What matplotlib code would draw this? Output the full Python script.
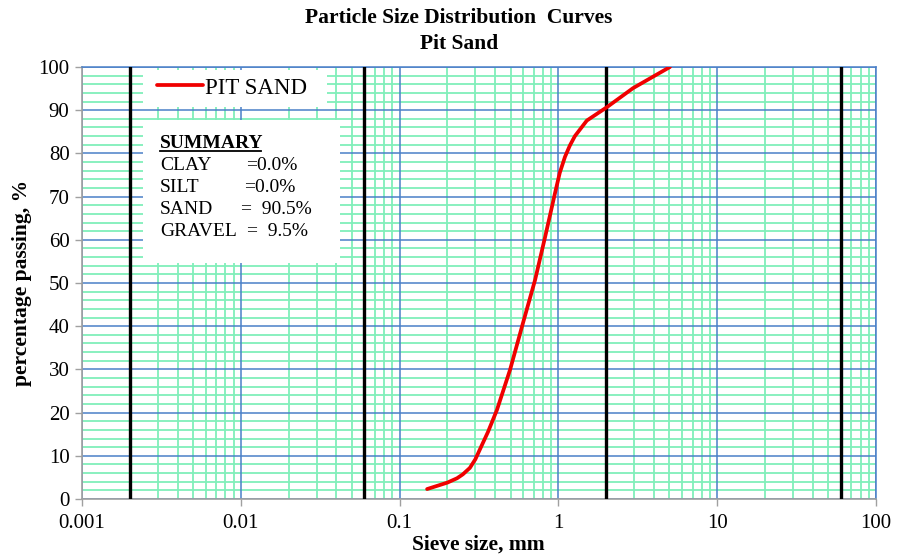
import numpy as np
import matplotlib
matplotlib.use("Agg")
import matplotlib.pyplot as plt
from matplotlib.patches import Rectangle

# ---- data ----
sieve_mm = [0.149, 0.20, 0.23, 0.25, 0.277, 0.30, 0.33, 0.36, 0.41, 0.496, 0.598, 0.713,
            0.824, 0.952, 1.02, 1.10, 1.18, 1.27, 1.51, 2.02, 2.95, 5.04]
passing = [2.3, 3.8, 4.8, 5.7, 7.2, 9.2, 12.5, 15.5, 20.6, 29.9, 40.7, 50.7,
           60.6, 70.8, 75.5, 79.2, 81.8, 84.0, 87.6, 90.7, 95.1, 100.0]
boundaries_mm = [0.002, 0.06, 2, 60]
x_ticks = [0.001, 0.01, 0.1, 1, 10, 100]
x_tick_labels = ["0.001", "0.01", "0.1", "1", "10", "100"]
y_ticks = list(range(0, 101, 10))
summary_labels = ["CLAY", "SILT", "SAND", "GRAVEL"]
summary_values = ["=0.0%", "=0.0%", "=  90.5%", "=  9.5%"]
series_name = "PIT SAND"

W, H = 898, 558
fig = plt.figure(figsize=(W / 100, H / 100), dpi=100)
plt.rcParams['font.family'] = ['Liberation Serif', 'DejaVu Serif']

L, R, T, B = 82, 876, 67, 499
ax = fig.add_axes([L / W, 1 - B / H, (R - L) / W, (B - T) / H])
ax.set_xscale("log")
ax.set_xlim(0.001, 100)
ax.set_ylim(0, 100)

major_c = "#4A80C8"
minor_c = "#80EFBA"

# minor grid
for d in [0.001, 0.01, 0.1, 1, 10]:
    for m in range(2, 10):
        ax.axvline(d * m, color=minor_c, lw=1.3, zorder=1)
for yv in range(0, 101, 2):
    if yv % 10:
        ax.axhline(yv, color=minor_c, lw=1.3, zorder=1)
# major grid
for xv in x_ticks:
    ax.axvline(xv, color=major_c, lw=1.1, zorder=2)
for yv in y_ticks:
    ax.axhline(yv, color=major_c, lw=1.1, zorder=2)

for b in boundaries_mm:
    ax.axvline(b, color="black", lw=2.4, zorder=3)

ax.plot(sieve_mm, passing, color="#F00000", lw=2.7, zorder=5,
        solid_joinstyle="round", solid_capstyle="round", label=series_name)

ax.set_xticks(x_ticks)
ax.set_xticklabels(x_tick_labels)
ax.xaxis.set_minor_locator(matplotlib.ticker.NullLocator())
ax.set_yticks(y_ticks)
ax.tick_params(axis="both", labelsize=15, color="#A0A0A0", length=5,
               direction="out", width=1)
ax.tick_params(axis="x", pad=6)
ax.tick_params(axis="y", pad=4)
for s in ["left", "bottom"]:
    ax.spines[s].set_color("#A0A0A0")
    ax.spines[s].set_linewidth(1.2)
for s in ["top", "right"]:
    ax.spines[s].set_color(major_c)
    ax.spines[s].set_linewidth(1.1)


def fx(px):
    return px / W


def fy(py):
    return 1 - py / H


# legend box
ax.add_patch(Rectangle((fx(143), fy(107)), fx(327) - fx(143), fy(70) - fy(107),
                       transform=fig.transFigure, facecolor="white",
                       edgecolor="none", zorder=10, clip_on=False))
leg = ax.legend(loc="center left", bbox_to_anchor=(fx(157), fy(88)),
                bbox_transform=fig.transFigure, frameon=False, fontsize=16.5,
                handlelength=2.0, handletextpad=0.1, borderpad=0, borderaxespad=0)
leg.set_zorder(11)

# summary box
ax.add_patch(Rectangle((fx(143), fy(263)), fx(340) - fx(143), fy(120) - fy(263),
                       transform=fig.transFigure, facecolor="white",
                       edgecolor="none", zorder=10, clip_on=False))
fig.text(fx(160), fy(148), "SUMMARY", fontsize=14, fontweight="bold",
         va="baseline", ha="left", zorder=12)
fig.add_artist(plt.Line2D([fx(160), fx(261)], [fy(151), fy(151)], color="black",
                          lw=1.3, transform=fig.transFigure, zorder=12))
val_x = [246, 244, 241, 247]
for i, (lab, val) in enumerate(zip(summary_labels, summary_values)):
    yb = 170 + 22 * i
    fig.text(fx(160), fy(yb), lab, fontsize=14, va="baseline", ha="left", zorder=12)
    fig.text(fx(val_x[i]), fy(yb), val, fontsize=14, va="baseline", ha="left", zorder=12)

fig.text(fx(459), fy(18), "Particle Size Distribution  Curves", fontsize=15.5,
         fontweight="bold", ha="center", va="center")
fig.text(fx(459), fy(44), "Pit Sand", fontsize=15.5, fontweight="bold",
         ha="center", va="center")
fig.text(fx(478), fy(545), "Sieve size, mm", fontsize=15.5, fontweight="bold",
         ha="center", va="center")
fig.text(fx(22), fy(283), "percentage passing, %", fontsize=15.5, fontweight="bold",
         ha="center", va="center", rotation=90)

fig.savefig("out.png", dpi=100)
